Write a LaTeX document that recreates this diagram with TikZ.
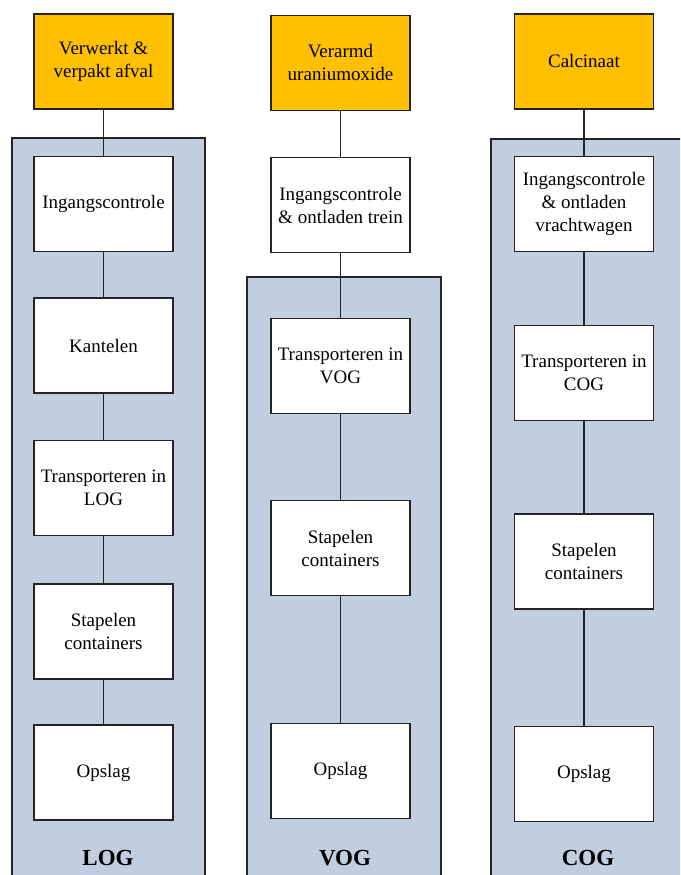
\documentclass[tikz,border=0pt]{standalone}
\usepackage{fontspec}
\setmainfont{Liberation Serif}
\definecolor{srcfill}{RGB}{255,192,0}
\definecolor{bayfill}{RGB}{192,206,224}
\definecolor{edge}{RGB}{35,35,35}
\begin{document}
\begin{tikzpicture}[x=1pt,y=-1pt,
  stepbox/.style={draw=edge,line width=1.5pt,fill=white,minimum width=139pt,minimum height=95pt,
    align=center,font=\fontsize{19}{23}\selectfont,inner sep=2pt},
  srcbox/.style={stepbox,fill=srcfill},
  bay/.style={draw=edge,line width=1.5pt,fill=bayfill},
  baylabel/.style={font=\fontsize{23}{27}\selectfont\bfseries},
  link/.style={draw=edge,line width=1.5pt}]
\useasboundingbox (0,0) rectangle (680,875);
\clip (0,0) rectangle (680,875);
\fill[white] (0,0) rectangle (680,875);

% storage buildings
\draw[bay] (12,138) rectangle (205,900);
\draw[bay] (247,277) rectangle (441,900);
\draw[bay] (491,139) rectangle (700,900);

% LOG column
\node[srcbox]  (l0) at (103.5,61.5) {Verwerkt \&\\verpakt afval};
\node[stepbox] (l1) at (103.5,204) {Ingangscontrole};
\node[stepbox] (l2) at (103.5,345.5) {Kantelen};
\node[stepbox] (l3) at (103.5,488) {Transporteren in\\LOG};
\node[stepbox] (l4) at (103.5,631.5) {Stapelen\\containers};
\node[stepbox] (l5) at (103.5,772.5) {Opslag};
\node[baylabel] (lab1) at (108,858) {LOG};

% VOG column
\node[srcbox]  (v0) at (340.5,63) {Verarmd\\uraniumoxide};
\node[stepbox] (v1) at (340.5,205) {Ingangscontrole\\\& ontladen trein};
\node[stepbox] (v2) at (340.5,366) {Transporteren in\\VOG};
\node[stepbox] (v3) at (340.5,548) {Stapelen\\containers};
\node[stepbox] (v4) at (340.5,771) {Opslag};
\node[baylabel] (lab2) at (345,858) {VOG};

% COG column
\node[srcbox]  (c0) at (584,61.5) {Calcinaat};
\node[stepbox] (c1) at (584,204) {Ingangscontrole\\\& ontladen\\vrachtwagen};
\node[stepbox] (c2) at (584,373) {Transporteren in\\COG};
\node[stepbox] (c3) at (584,561.5) {Stapelen\\containers};
\node[stepbox] (c4) at (584,774) {Opslag};
\node[baylabel] (lab3) at (588,858) {COG};

% connectors
\foreach \a/\b in {l0/l1,l1/l2,l2/l3,l3/l4,l4/l5,
                   v0/v1,v1/v2,v2/v3,v3/v4,
                   c0/c1,c1/c2,c2/c3,c3/c4}
  \draw[link] (\a.south) -- (\b.north);
\end{tikzpicture}
\end{document}
